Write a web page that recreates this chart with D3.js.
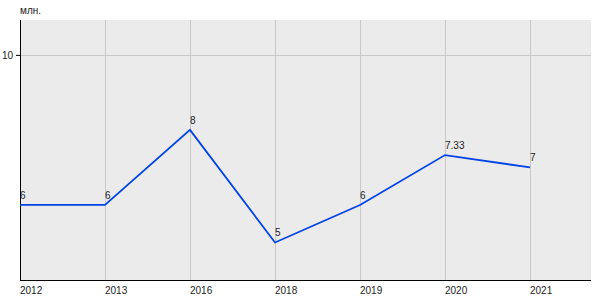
<!DOCTYPE html>
<html>
<head>
<meta charset="utf-8">
<script src="https://cdn.jsdelivr.net/npm/d3@7"></script>
<style>
  body { margin: 0; background: #fff; }
  text { font-family: "Liberation Sans", Arial, sans-serif; font-size: 10px; fill: #222; }
</style>
</head>
<body>
<div id="chart"></div>
<script>
var years = ["2012", "2013", "2016", "2018", "2019", "2020", "2021"];
var values = [6, 6, 8, 5, 6, 7.33, 7];
var valueLabels = ["6", "6", "8", "5", "6", "7.33", "7"];
var yTicks = [10];
var unitLabel = "млн.";

var width = 600, height = 300;
var margin = { top: 20, right: 10, bottom: 20, left: 20 };
var innerW = width - margin.left - margin.right;
var innerH = height - margin.top - margin.bottom;

var svg = d3.select("#chart").append("svg")
  .attr("width", width)
  .attr("height", height);

var g = svg.append("g")
  .attr("transform", "translate(" + margin.left + "," + margin.top + ")");

var x = d3.scalePoint()
  .domain(years)
  .range([0, 510]);

var y = d3.scaleLinear()
  .domain([4, 10.93])
  .range([innerH, 0]);

// background
g.append("rect")
  .attr("width", innerW + 1)
  .attr("height", innerH)
  .attr("fill", "#ebebeb");

// vertical grid
g.selectAll(".vgrid")
  .data(years).enter()
  .append("line")
  .attr("class", "vgrid")
  .attr("x1", (d) => Math.round(x(d)) + 0.5)
  .attr("x2", (d) => Math.round(x(d)) + 0.5)
  .attr("y1", 0)
  .attr("y2", innerH)
  .attr("stroke", "#c8c8c8");

// horizontal grid
g.selectAll(".hgrid")
  .data(yTicks).enter()
  .append("line")
  .attr("class", "hgrid")
  .attr("x1", 0)
  .attr("x2", innerW + 1)
  .attr("y1", (d) => Math.round(y(d)) + 0.5)
  .attr("y2", (d) => Math.round(y(d)) + 0.5)
  .attr("stroke", "#c8c8c8");

// y axis
var yAxis = d3.axisLeft(y).tickValues(yTicks).tickFormat(d3.format("d")).tickSize(4).tickPadding(3);
var yG = g.append("g").call(yAxis);
yG.select(".domain").remove();
yG.selectAll("text").style("font-size", "10px");
g.append("line")
  .attr("x1", 0.5).attr("x2", 0.5)
  .attr("y1", 0).attr("y2", innerH)
  .attr("stroke", "#000");

// x axis
var xAxis = d3.axisBottom(x).tickSize(0).tickPadding(7);
var xG = g.append("g")
  .attr("transform", "translate(0," + innerH + ")")
  .call(xAxis);
xG.select(".domain").remove();
xG.selectAll("text").attr("text-anchor", "start").attr("x", -0.5).style("font-size", "10px");
g.append("line")
  .attr("x1", 0).attr("x2", innerW + 1)
  .attr("y1", innerH + 0.5).attr("y2", innerH + 0.5)
  .attr("stroke", "#000");

// line
var line = d3.line()
  .x((d, i) => x(years[i]))
  .y((d) => y(d));

g.append("path")
  .datum(values)
  .attr("fill", "none")
  .attr("stroke", "#0044e6")
  .attr("stroke-width", 1.8)
  .attr("d", line);

// value labels
g.selectAll(".vlabel")
  .data(values).enter()
  .append("text")
  .attr("class", "vlabel")
  .attr("x", (d, i) => x(years[i]))
  .attr("y", (d) => y(d) - 6)
  .text((d, i) => valueLabels[i]);

// unit label
svg.append("text")
  .attr("x", margin.left)
  .attr("y", 14)
  .text(unitLabel);
</script>
</body>
</html>
